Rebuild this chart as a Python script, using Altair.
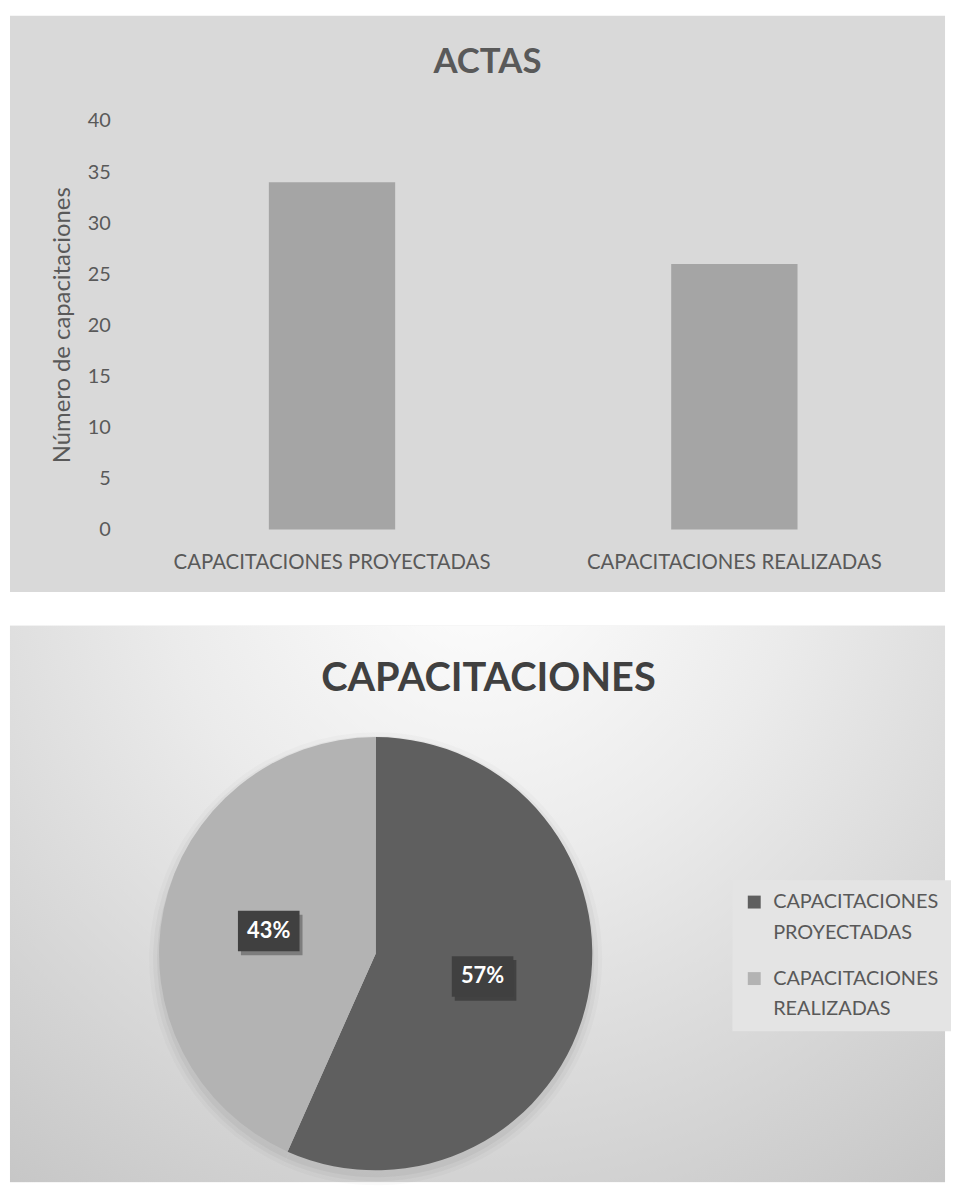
import math
import altair as alt
import pandas as pd

# ---------------- data ----------------
categories = ["CAPACITACIONES PROYECTADAS", "CAPACITACIONES REALIZADAS"]
counts = [34, 26]
y_ticks = [0, 5, 10, 15, 20, 25, 30, 35, 40]
slice_colors = ["#5f5f5f", "#b3b3b3"]

FONT = "Lato"
W = 941
H1 = 580
H2 = 560
GAP = 34

# ---------------- bar chart ----------------
bar_df = pd.DataFrame({"cat": categories, "n": counts})

px_per_unit = 10.275
zero_px = 517
y_dom = [-(H1 - zero_px) / px_per_unit, zero_px / px_per_unit]

bars = (
    alt.Chart(
        bar_df,
        title=alt.Title(
            "ACTAS", fontSize=35, font=FONT, fontWeight="bold", color="#595959",
            offset=-93, baseline="alphabetic", dx=10, frame="group",
        ),
    )
    .mark_bar(color="#a5a5a5")
    .encode(
        x=alt.X(
            "cat:N", sort=categories, title=None,
            scale=alt.Scale(paddingInner=0.686, paddingOuter=0.505, align=0.637),
            axis=alt.Axis(
                orient="bottom", offset=-40, labelAngle=0, labelFont=FONT,
                labelFontSize=20.5, labelColor="#595959", labelPadding=0,
                ticks=False, tickSize=0, domain=False, labelLimit=400,
            ),
        ),
        y=alt.Y(
            "n:Q", title="Número de capacitaciones",
            scale=alt.Scale(domain=y_dom, nice=False, zero=False),
            axis=alt.Axis(
                values=y_ticks, offset=-101, grid=False, domain=False, ticks=False,
                tickSize=0, labelPadding=0, labelFont=FONT, labelFontSize=20,
                labelColor="#595959", titleFont=FONT, titleFontSize=24,
                titleFontWeight="normal", titleColor="#595959", titleX=-48,
                titleY=311, titleBaseline="middle", titleAngle=270,
            ),
        ),
    )
    .properties(width=W, height=H1, view=alt.ViewBackground(fill="#d9d9d9", strokeWidth=0))
)

# ---------------- pie chart ----------------
total = sum(counts)
fracs = [c / total for c in counts]
mids = []
acc = 0.0
for f in fracs:
    mids.append(acc + f / 2)
    acc += f

CX, CY, R, RL = 368, 330, 218, 110
pie_df = pd.DataFrame({
    "cat": categories,
    "n": counts,
    "idx": list(range(len(categories))),
    "pct": [f"{round(f * 100)}%" for f in fracs],
    "lx": [CX + RL * math.sin(2 * math.pi * m) for m in mids],
    "ly": [CY - RL * math.cos(2 * math.pi * m) for m in mids],
})

base = alt.Chart(pie_df)

bg = alt.Chart(pd.DataFrame({"d": [0]})).mark_rect(
    fill=alt.Gradient(
        gradient="radial",
        stops=[
            alt.GradientStop(color="#ffffff", offset=0),
            alt.GradientStop(color="#ebebeb", offset=0.4),
            alt.GradientStop(color="#c6c6c6", offset=1),
        ],
        x1=0.5, y1=0.12, r1=0, x2=0.5, y2=0.12, r2=0.85,
    )
).encode(x=alt.value(0), x2=alt.value(W), y=alt.value(0), y2=alt.value(H2))

glows = [
    base.mark_arc(radius=r, fill="#000000", opacity=op).encode(
        theta=alt.Theta("n:Q", stack=True), order=alt.Order("idx:O"),
        x=alt.value(CX), y=alt.value(CY + 5),
    )
    for r, op in [(228, 0.02), (224, 0.03), (220, 0.04)]
]

pie = base.mark_arc(radius=R).encode(
    theta=alt.Theta("n:Q", stack=True),
    order=alt.Order("idx:O"),
    color=alt.Color(
        "cat:N",
        scale=alt.Scale(domain=categories, range=slice_colors),
        legend=alt.Legend(
            title=None, orient="none", legendX=727, legendY=H1 + GAP + 256,
            symbolType="square", symbolSize=169, symbolStrokeWidth=0,
            labelFont=FONT, labelFontSize=20, labelColor="#595959",
            labelLimit=400, labelExpr="split(datum.label, ' ')",
            fillColor="#e4e4e4", padding=12, rowPadding=26, labelOffset=9,
        ),
    ),
    x=alt.value(CX),
    y=alt.value(CY),
)

xs = alt.X("lx:Q", scale=alt.Scale(domain=[0, W], nice=False, zero=False), axis=None)
ys = alt.Y("ly:Q", scale=alt.Scale(domain=[0, H2], nice=False, zero=False, reverse=True), axis=None)
box_path = "M-1,-0.66L1,-0.66L1,0.66L-1,0.66Z"

box_shadow = base.mark_point(
    shape=box_path, size=3844, filled=True, color="#000000", opacity=0.3,
    xOffset=3, yOffset=4, strokeWidth=0,
).encode(x=xs, y=ys)
box = base.mark_point(
    shape=box_path, size=3844, filled=True, color="#404040", opacity=1, strokeWidth=0,
).encode(x=xs, y=ys)
txt = base.mark_text(
    font=FONT, fontSize=22, fontWeight="bold", color="#ffffff",
    baseline="middle", align="center",
).encode(x=xs, y=ys, text="pct:N")

pie_chart = alt.layer(bg, *glows, pie, box_shadow, box, txt).properties(
    width=W, height=H2,
    title=alt.Title(
        "CAPACITACIONES", fontSize=40, font=FONT, fontWeight="bold", color="#404040",
        offset=-106, baseline="alphabetic", dx=11, frame="group",
    ),
)

chart = alt.vconcat(bars, pie_chart, spacing=GAP).properties(
    padding={"left": 2, "top": 4, "right": 0, "bottom": 0},
    background="white",
).configure(
    style={"guide-label": {"lineHeight": 31}},
    view=alt.ViewConfig(strokeWidth=0),
)

chart.save("out.html", embed_options={"renderer": "svg", "actions": False})
